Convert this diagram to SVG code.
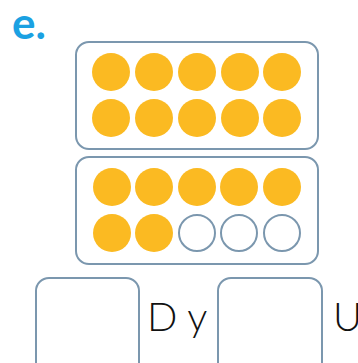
<svg xmlns="http://www.w3.org/2000/svg" width="358" height="363" viewBox="0 0 358 363">
<style>
.box{fill:#fff;stroke:#7b97ae;stroke-width:2}
.f{fill:#fbba22}
.e{fill:#fff;stroke:#7b97ae;stroke-width:2}
.lbl{font-family:Lato,"Liberation Sans",sans-serif;font-weight:300;font-size:40px;fill:#111}
</style>
<rect width="358" height="363" fill="#fff"/>
<text x="12" y="39" font-family="Lato,'Liberation Sans',sans-serif" font-weight="700" font-size="44" fill="#1ba1e2">e.</text>
<g id="frame1">
<rect class="box" x="76" y="42" width="242" height="107" rx="13"/>
<circle class="f" cx="111" cy="72" r="19"/><circle class="f" cx="154" cy="72" r="19"/><circle class="f" cx="197" cy="72" r="19"/><circle class="f" cx="240" cy="72" r="19"/><circle class="f" cx="282" cy="72" r="19"/>
<circle class="f" cx="111" cy="118" r="19"/><circle class="f" cx="154" cy="118" r="19"/><circle class="f" cx="197" cy="118" r="19"/><circle class="f" cx="240" cy="118" r="19"/><circle class="f" cx="282" cy="118" r="19"/>
</g>
<g id="frame2">
<rect class="box" x="76" y="157" width="242" height="107" rx="13"/>
<circle class="f" cx="112" cy="187" r="19"/><circle class="f" cx="154" cy="187" r="19"/><circle class="f" cx="197" cy="187" r="19"/><circle class="f" cx="239" cy="187" r="19"/><circle class="f" cx="282" cy="187" r="19"/>
<circle class="f" cx="112" cy="233" r="19"/><circle class="f" cx="154" cy="233" r="19"/><circle class="e" cx="197" cy="233" r="18"/><circle class="e" cx="239" cy="233" r="18"/><circle class="e" cx="282" cy="233" r="18"/>
</g>
<g id="answer1"><rect class="box" x="36" y="278" width="103" height="100" rx="13"/></g>
<text class="lbl" x="147" y="331">D y</text>
<g id="answer2"><rect class="box" x="218" y="278" width="104" height="100" rx="13"/></g>
<text class="lbl" x="333" y="331">U</text>
</svg>
